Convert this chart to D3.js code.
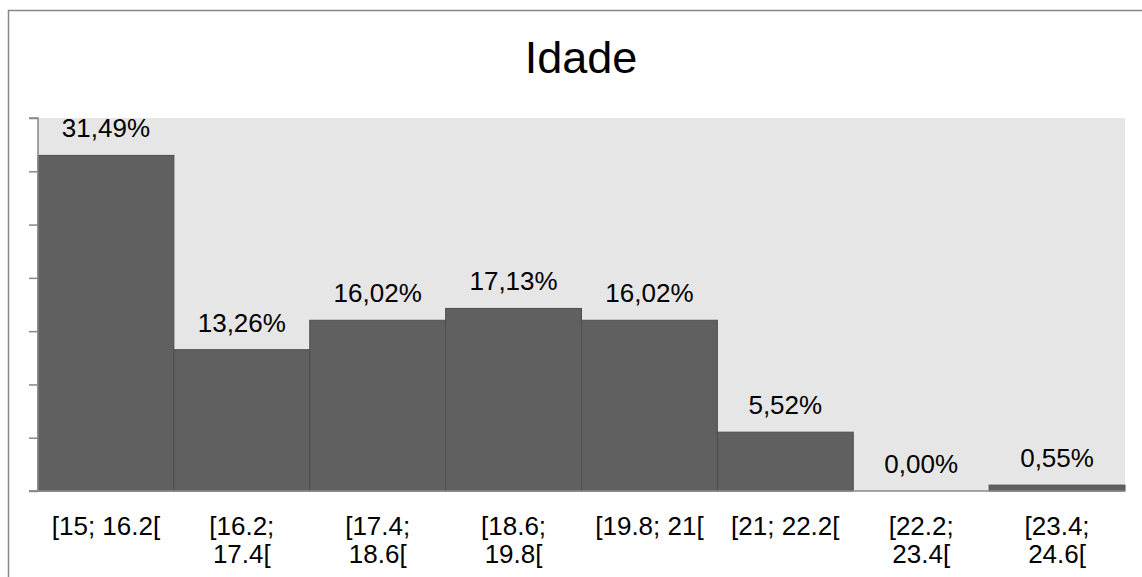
<!DOCTYPE html>
<html>
<head>
<meta charset="utf-8">
<script src="https://cdn.jsdelivr.net/npm/d3@7"></script>
<style>
  html, body { margin: 0; padding: 0; background: #fff; }
  svg { display: block; font-family: "Liberation Sans", Arial, sans-serif; }
</style>
</head>
<body>
<svg id="chart" width="1142" height="577"></svg>
<script>
const title = "Idade";
const categories = ["[15; 16.2[", "[16.2; 17.4[", "[17.4; 18.6[", "[18.6; 19.8[", "[19.8; 21[", "[21; 22.2[", "[22.2; 23.4[", "[23.4; 24.6["];
const values = [31.49, 13.26, 16.02, 17.13, 16.02, 5.52, 0.00, 0.55];
const valueLabels = ["31,49%", "13,26%", "16,02%", "17,13%", "16,02%", "5,52%", "0,00%", "0,55%"];
const yTicks = [0, 5, 10, 15, 20, 25, 30, 35];

const svg = d3.select("#chart");
const W = 1142, H = 577;
const plot = { left: 38, right: 1125, top: 118, bottom: 491 };

// outer frame (left + top edges visible)
svg.append("path")
  .attr("d", `M8.5,${H} L8.5,10.5 L${W},10.5`)
  .attr("fill", "none").attr("stroke", "#888").attr("stroke-width", 1.5);

// title
svg.append("text")
  .attr("x", 581).attr("y", 73)
  .attr("text-anchor", "middle")
  .attr("font-size", 45)
  .attr("fill", "#000")
  .text(title);

const x = d3.scaleBand().domain(categories).range([plot.left, plot.right]).padding(0);
const y = d3.scaleLinear().domain([0, 35]).range([plot.bottom, plot.top]);

// plot background
svg.append("rect")
  .attr("x", plot.left).attr("y", plot.top)
  .attr("width", plot.right - plot.left).attr("height", plot.bottom - plot.top)
  .attr("fill", "#e6e6e6");

// bars
svg.selectAll("rect.bar").data(values).enter().append("rect")
  .attr("class", "bar")
  .attr("x", (d, i) => x(categories[i]))
  .attr("y", d => y(d))
  .attr("width", x.bandwidth())
  .attr("height", d => y(0) - y(d))
  .attr("fill", "#606060")
  .attr("stroke", "#4e4e4e")
  .attr("stroke-width", 1);

// y axis (ticks only, no labels)
const yAxis = d3.axisLeft(y).tickValues(yTicks).tickSize(9).tickFormat("");
const yg = svg.append("g").attr("transform", `translate(${plot.left},0)`).call(yAxis);
yg.select(".domain").attr("stroke", "#888").attr("stroke-width", 1.5).attr("d", `M-9,${plot.top}H0V${plot.bottom}H-9`);
yg.selectAll(".tick line").attr("stroke", "#888").attr("stroke-width", 1.5);

// x axis
const xAxis = d3.axisBottom(x).tickSize(0).tickPadding(0);
const xg = svg.append("g").attr("transform", `translate(0,${plot.bottom})`).call(xAxis);
xg.select(".domain").attr("stroke", "#888").attr("stroke-width", 1.5)
  .attr("d", `M${plot.left - 9},0H${plot.right}`);
xg.selectAll(".tick text")
  .attr("font-family", "'Liberation Sans', Arial, sans-serif")
  .attr("font-size", 26)
  .attr("fill", "#000")
  .attr("dy", null)
  .attr("y", 44)
  .each(function (d) {
    const t = d3.select(this);
    const words = d.split(" ");
    t.text(d);
    if (this.getComputedTextLength() > x.bandwidth() * 0.92 && words.length > 1) {
      t.text(null);
      t.append("tspan").attr("x", 0).attr("y", 44).text(words[0]);
      t.append("tspan").attr("x", 0).attr("y", 72).text(words.slice(1).join(" "));
    }
  });

// value labels
svg.selectAll("text.vlabel").data(values).enter().append("text")
  .attr("class", "vlabel")
  .attr("x", (d, i) => x(categories[i]) + x.bandwidth() / 2)
  .attr("y", d => y(d) - 18)
  .attr("text-anchor", "middle")
  .attr("font-size", 26)
  .attr("fill", "#000")
  .text((d, i) => valueLabels[i]);
</script>
</body>
</html>
